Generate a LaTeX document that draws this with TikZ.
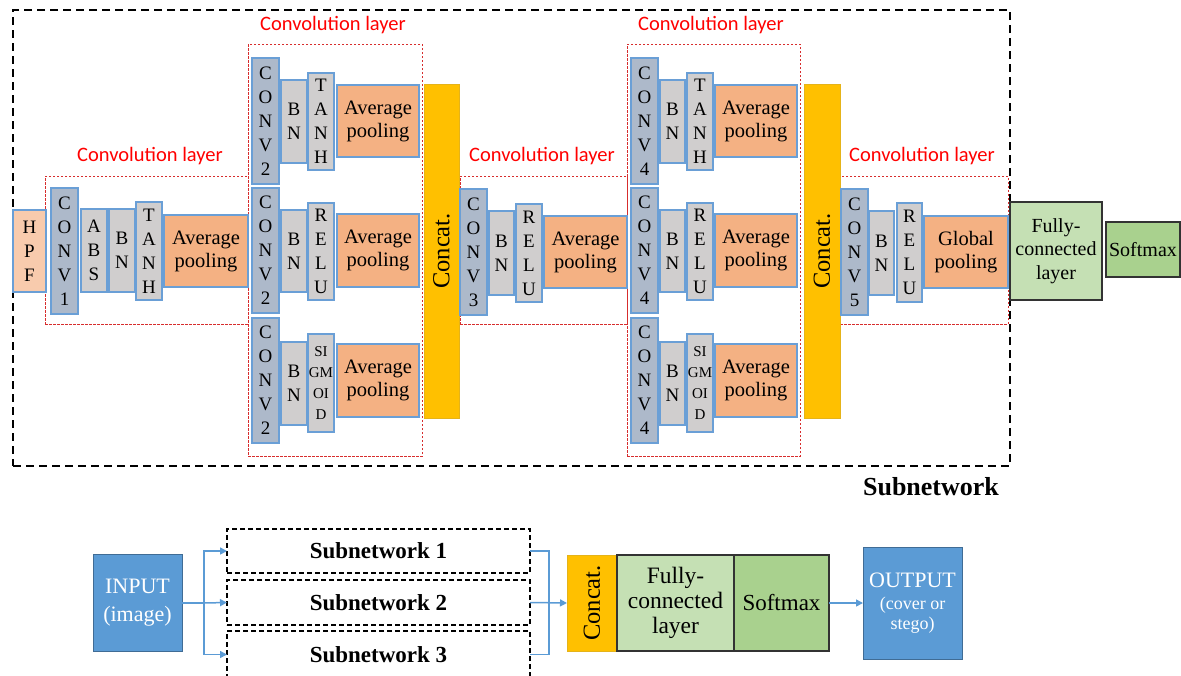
\documentclass[tikz,border=0pt]{standalone}
\usepackage{fontspec}
\setmainfont{Liberation Serif}
\newfontfamily\carl{Carlito}
\usetikzlibrary{arrows.meta}
\definecolor{convc}{HTML}{ADB9CA}
\definecolor{grayc}{HTML}{D0CECE}
\definecolor{poolc}{HTML}{F4B183}
\definecolor{hpfc}{HTML}{F8CBAD}
\definecolor{catc}{HTML}{FFC000}
\definecolor{fcc}{HTML}{C5E0B4}
\definecolor{smc}{HTML}{A9D18E}
\definecolor{bluec}{HTML}{5B9BD5}
\definecolor{bordc}{HTML}{6A9FD6}
\definecolor{redc}{RGB}{215,45,45}
\newcommand\bx[7]{\node[#2, minimum width={(#5)-(#3)}, minimum height={(#6)-(#4)}] (#1) at ({(#3+#5)/2},{(#4+#6)/2}) {#7};}
\tikzset{
  base/.style={draw=bordc, line width=1.2pt, inner sep=0pt, outer sep=0pt, align=center},
  vlet/.style={base, font=\fontsize{19}{24}\selectfont},
  conv/.style={vlet, fill=convc},
  grey/.style={vlet, fill=grayc},
  sig/.style={base, fill=grayc, font=\fontsize{15}{20.7}\selectfont},
  pool/.style={base, fill=poolc, font=\fontsize{20.5}{23}\selectfont},
  hpf/.style={vlet, fill=hpfc},
  cat/.style={fill=catc, draw=catc!80!gray, line width=0.6pt, inner sep=0pt, outer sep=0pt},
  cattxt/.style={rotate=90, font=\fontsize{24.5}{26}\selectfont},
  fc/.style={fill=fcc, draw=black!80, line width=1.2pt, inner sep=0pt, outer sep=0pt, align=center},
  sm/.style={fill=smc, draw=black!80, line width=1.2pt, inner sep=0pt, outer sep=0pt, align=center},
  layer/.style={draw=redc, line width=1pt, dash pattern=on 2.5pt off 1.5pt, inner sep=0pt, outer sep=0pt},
  layertxt/.style={text=red, font=\carl\fontsize{20.5}{24}\selectfont},
  outer/.style={draw=black, line width=2pt, dash pattern=on 8pt off 5pt, inner sep=0pt, outer sep=0pt},
  subn/.style={draw=black, line width=1.5pt, dash pattern=on 5pt off 3pt, inner sep=0pt, outer sep=0pt, font=\bfseries\fontsize{23}{26}\selectfont},
  io/.style={fill=bluec, draw=bluec!70!black, line width=0.8pt, inner sep=0pt, outer sep=0pt, align=center, text=white},
  bl/.style={draw=bluec, line width=1.5pt},
  arr/.style={bl, -{Triangle[length=7pt,width=7pt]}}
}
\begin{document}
\begin{tikzpicture}[x=1pt,y=-1pt]
\useasboundingbox (0,0) rectangle (1181,675);
% outer subnetwork box
\bx{outer}{outer}{13}{10}{1010}{466}{}
\node[font=\bfseries\fontsize{26}{30}\selectfont] (subnlabel) at (931,487) {Subnetwork};
% layer boxes
\bx{L1}{layer}{45}{176}{248}{324}{}
\bx{L2}{layer}{248}{44}{422}{456}{}
\bx{L3}{layer}{460}{176}{627}{324}{}
\bx{L4}{layer}{627}{44}{800}{456}{}
\bx{L5}{layer}{840}{176}{1008}{324}{}
\node[layertxt] (L1t) at (150,156) {Convolution layer};
\node[layertxt] (L2t) at (333,25) {Convolution layer};
\node[layertxt] (L3t) at (542,156) {Convolution layer};
\node[layertxt] (L4t) at (711,25) {Convolution layer};
\node[layertxt] (L5t) at (922,156) {Convolution layer};
% layer 1
\bx{hpf}{hpf}{13}{210}{46}{292}{H\\P\\F}
\bx{c1}{conv}{51}{188}{78}{314}{C\\O\\N\\V\\1}
\bx{abs}{grey}{81}{209}{107}{292}{A\\B\\S}
\bx{bn1}{grey}{109}{209}{135}{292}{B\\N}
\bx{th1}{grey}{136}{202}{162}{300}{T\\A\\N\\H}
\bx{ap1}{pool}{164}{215}{248}{287}{Average\\pooling}
% layer 2
\bx{c2a}{conv}{252}{58}{279}{184}{C\\O\\N\\V\\2}
\bx{bn2a}{grey}{281}{80}{307}{163}{B\\N}
\bx{th2}{grey}{308}{73}{334}{170}{T\\A\\N\\H}
\bx{ap2a}{pool}{337}{85}{419}{157}{Average\\pooling}
\bx{c2b}{conv}{252}{188}{279}{313}{C\\O\\N\\V\\2}
\bx{bn2b}{grey}{281}{210}{307}{292}{B\\N}
\bx{re2}{grey}{308}{203}{334}{300}{R\\E\\L\\U}
\bx{ap2b}{pool}{337}{214}{419}{287}{Average\\pooling}
\bx{c2c}{conv}{252}{318}{279}{443}{C\\O\\N\\V\\2}
\bx{bn2c}{grey}{281}{342}{307}{425}{B\\N}
\bx{sg2}{sig}{308}{334}{334}{432}{SI\\GM\\OI\\D}
\bx{ap2c}{pool}{337}{344}{419}{417}{Average\\pooling}
\bx{cat1}{cat}{424}{84}{459}{418}{}
\node[cattxt] (cat1t) at (cat1) {Concat.};
% layer 3
\bx{c3}{conv}{460}{189}{487}{315}{C\\O\\N\\V\\3}
\bx{bn3}{grey}{489}{211}{514}{295}{B\\N}
\bx{re3}{grey}{516}{204}{542}{302}{R\\E\\L\\U}
\bx{ap3}{pool}{544}{216}{627}{288}{Average\\pooling}
% layer 4
\bx{c4a}{conv}{631}{58}{658}{184}{C\\O\\N\\V\\4}
\bx{bn4a}{grey}{660}{80}{685}{163}{B\\N}
\bx{th4}{grey}{687}{73}{713}{170}{T\\A\\N\\H}
\bx{ap4a}{pool}{715}{85}{797}{157}{Average\\pooling}
\bx{c4b}{conv}{631}{188}{658}{313}{C\\O\\N\\V\\4}
\bx{bn4b}{grey}{660}{210}{685}{292}{B\\N}
\bx{re4}{grey}{687}{203}{713}{300}{R\\E\\L\\U}
\bx{ap4b}{pool}{715}{214}{797}{287}{Average\\pooling}
\bx{c4c}{conv}{631}{318}{658}{443}{C\\O\\N\\V\\4}
\bx{bn4c}{grey}{660}{342}{685}{425}{B\\N}
\bx{sg4}{sig}{687}{334}{713}{432}{SI\\GM\\OI\\D}
\bx{ap4c}{pool}{715}{344}{797}{417}{Average\\pooling}
\bx{cat2}{cat}{804}{84}{840}{418}{}
\node[cattxt] (cat2t) at (cat2) {Concat.};
% layer 5
\bx{c5}{conv}{841}{189}{868}{315}{C\\O\\N\\V\\5}
\bx{bn5}{grey}{869}{211}{894}{295}{B\\N}
\bx{re5}{grey}{897}{203}{922}{302}{R\\E\\L\\U}
\bx{gp}{pool}{924}{216}{1008}{288}{Global\\pooling}
\bx{fc1}{fc,font=\fontsize{20}{23.5}\selectfont}{1010}{202}{1102}{300}{Fully-\\connected\\layer}
\bx{sm1}{sm,font=\fontsize{20}{23.5}\selectfont}{1106}{222}{1180}{277}{Softmax}
% bottom
\bx{in}{io,font=\fontsize{22}{28}\selectfont}{93}{554}{182}{651}{INPUT\\(image)}
\bx{s1}{subn}{227}{529}{530}{573}{Subnetwork 1}
\bx{s2}{subn}{227}{580}{530}{625}{Subnetwork 2}
\bx{s3}{subn}{227}{631}{530}{678}{Subnetwork 3}
\bx{cc}{cat}{567}{555}{617}{651}{}
\node[cattxt] (cct) at (cc) {Concat.};
\bx{fc2}{fc,font=\fontsize{23.5}{25}\selectfont}{617}{555}{734}{651}{Fully-\\connected\\layer}
\bx{sm2}{sm,font=\fontsize{23}{26}\selectfont}{734}{555}{829}{651}{Softmax}
\bx{out}{io,font=\fontsize{18}{19.5}\selectfont}{863}{547}{962}{659}{{\fontsize{22}{24}\selectfont OUTPUT}\\[3pt](cover or\\stego)}
% connectors
\coordinate (tr) at (204,603);
\coordinate (tr2) at (549,603);
\draw[bl] (in.east |- tr) -- (tr);
\draw[arr] (tr) |- (s1.west);
\draw[arr] (tr) -- (s2.west);
\draw[arr] (tr) |- (s3.west);
\draw[bl] (s1.east) -| (tr2);
\draw[bl] (s3.east) -| (tr2);
\draw[arr] (s2.east) -- (cc.west);
\draw[arr] (sm2.east) -- (out.west |- sm2.east);
\end{tikzpicture}
\end{document}
